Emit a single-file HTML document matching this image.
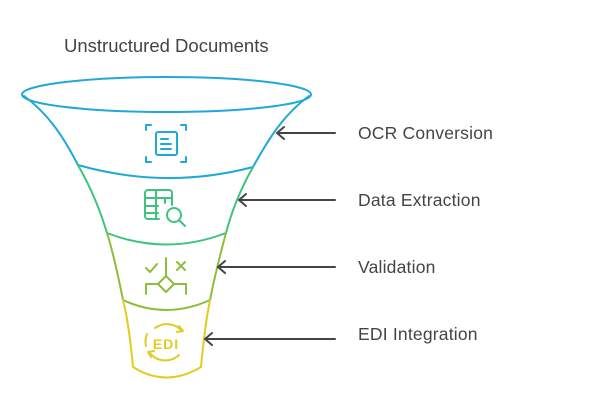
<!DOCTYPE html>
<html><head><style>
body{margin:0;background:#fff;width:600px;height:400px;overflow:hidden}
text{font-family:"Liberation Sans",sans-serif;fill:#444}
</style></head><body>
<svg width="600" height="400" viewBox="0 0 600 400" fill="none" stroke-width="2" stroke-linecap="round" stroke-linejoin="round">
<text x="64" y="52" font-size="18.5" stroke="none">Unstructured Documents</text>
<path d="M24 96 C50 115 65 140 78 165" stroke="#1fa9d8"/>
<path d="M309 96 C283 115 268 140 253 167" stroke="#1fa9d8"/>
<path d="M78 165 Q166 190 253 167" stroke="#1fa9d8"/>
<ellipse cx="166.5" cy="94.5" rx="144.5" ry="17.5" stroke="#1fa9d8"/>
<path d="M78 165 C92 190 100 210 107 233" stroke="#3ec47e"/>
<path d="M253 167 C240 190 232 210 226 233" stroke="#3ec47e"/>
<path d="M107 233 Q166 256 226 233" stroke="#3ec47e"/>
<path d="M107 233 C114 255 119 280 123 300" stroke="#8cbd3c"/>
<path d="M226 233 C220 255 214 280 210 300" stroke="#8cbd3c"/>
<path d="M123 300 Q166 320 210 300" stroke="#8cbd3c"/>
<path d="M123 300 C128 320 131 345 133 367 Q166 388 201 367 C203 345 206 320 210 300" stroke="#e3cb22"/>
<g stroke="#1fa9d8">
<path d="M146 130v-5h5M181 125h5v5M186 157v5h-5M151 162h-5v-5"/>
<rect x="156" y="132" width="21" height="23" rx="2"/>
<path d="M161 139h7M161 144h10M161 149h10"/>
</g>
<g stroke="#3ec47e">
<path d="M172 205v-12a3 3 0 0 0-3-3h-21a3 3 0 0 0-3 3v23a3 3 0 0 0 3 3h11"/>
<path d="M145 198h27M145 206h13M145 213h13M156 190v29M165 198v5"/>
<circle cx="174" cy="215" r="7"/><path d="M179 220l6 6"/>
</g>
<g stroke="#8cbd3c">
<path d="M146 268l4 4 7-8M177 262l8 8M185 262l-8 8M166 258v18"/>
<path d="M166 276l8 8-8 8-8-8z"/>
<path d="M158 284h-12v10M174 284h12v10"/>
</g>
<g stroke="#e3cb22">
<path d="M155 328 A20 20 0 0 1 182 331 M179 355 A20 20 0 0 1 149 352 M146 346 A20 20 0 0 1 147 334"/>
<path d="M179 326l4 5-6 1M151 357l-3-5 6-1"/>
<text x="166" y="349" font-size="14" text-anchor="middle" stroke="none" style="fill:#e3cb22;font-weight:bold" letter-spacing="1">EDI</text>
</g>
<g stroke="#444">
<path d="M335 133H277M284 127l-7 6 7 6"/>
<path d="M335 200H239M246 194l-7 6 7 6"/>
<path d="M335 267H218M225 261l-7 6 7 6"/>
<path d="M335 339H205M212 333l-7 6 7 6"/>
</g>
<g font-size="17.5" stroke="none" letter-spacing="0.2">
<text x="358" y="139">OCR Conversion</text>
<text x="358" y="206">Data Extraction</text>
<text x="358" y="273">Validation</text>
<text x="358" y="340">EDI Integration</text>
</g>
</svg>
</body></html>
